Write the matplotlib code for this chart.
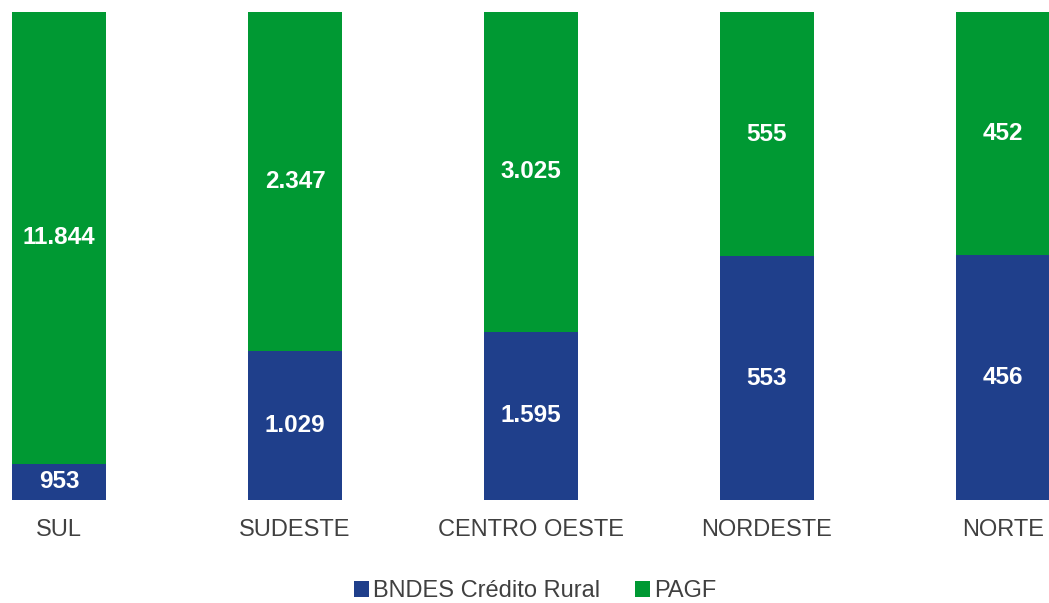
import matplotlib.pyplot as plt
import numpy as np

plt.rcParams['font.family'] = ['Liberation Sans', 'DejaVu Sans']

# Dados por região
regioes = ['SUL', 'SUDESTE', 'CENTRO OESTE', 'NORDESTE', 'NORTE']
bndes = [953, 1029, 1595, 553, 456]
pagf = [11844, 2347, 3025, 555, 452]

cor_bndes = '#1F3F8B'
cor_pagf = '#009933'

bndes = np.array(bndes, dtype=float)
pagf = np.array(pagf, dtype=float)
total = bndes + pagf
p_bndes = bndes / total
p_pagf = pagf / total


def fmt(v):
    return f'{int(v):,}'.replace(',', '.')


fig = plt.figure(figsize=(10.49, 6.03), dpi=100)
ax = fig.add_axes([12 / 1049, 103 / 603, 1038 / 1049, 488 / 603])

x = np.arange(len(regioes))
w = 0.4
b1 = ax.bar(x, p_bndes, w, color=cor_bndes, label='BNDES Crédito Rural')
b2 = ax.bar(x, p_pagf, w, bottom=p_bndes, color=cor_pagf, label='PAGF')

for i in range(len(regioes)):
    ax.text(x[i], p_bndes[i] / 2, fmt(bndes[i]), ha='center', va='center',
            color='white', fontsize=17.5, fontweight='bold')
    ax.text(x[i], p_bndes[i] + p_pagf[i] / 2, fmt(pagf[i]), ha='center',
            va='center', color='white', fontsize=17.5, fontweight='bold')

ax.set_xlim(-0.2, 4.2)
ax.set_ylim(0, 1)
ax.set_yticks([])
ax.set_xticks(x)
ax.set_xticklabels(regioes, fontsize=17, color='#404040')
ax.tick_params(axis='x', length=0, pad=14)
for s in ax.spines.values():
    s.set_visible(False)

fig.legend(handles=[b1, b2], loc='center', bbox_to_anchor=(535 / 1049, 1 - 591 / 603),
           ncol=2, frameon=False, fontsize=17, handlelength=0.65, handleheight=0.65,
           handletextpad=0.15, columnspacing=1.5, labelcolor='#404040')

fig.savefig('out.png', dpi=100)
